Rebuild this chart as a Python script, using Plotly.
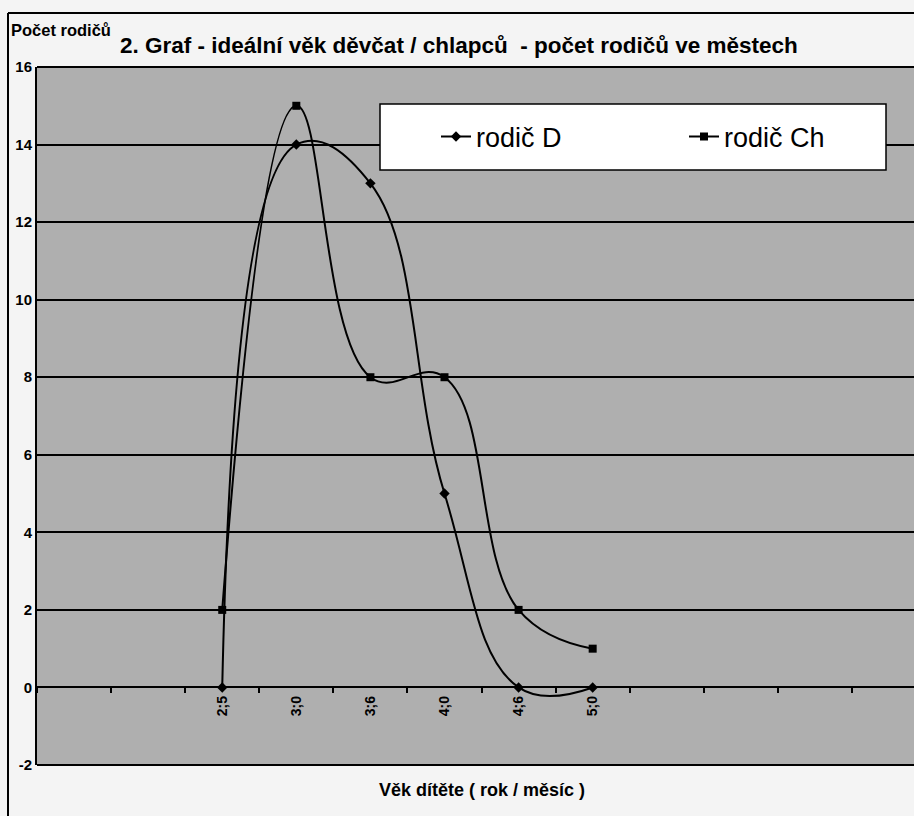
import plotly.graph_objects as go

# ---- data ----
age_labels = ["2;5", "3;0", "3;6", "4;0", "4;6", "5;0"]
rodic_D = [0, 14, 13, 5, 0, 0]
rodic_Ch = [2, 15, 8, 8, 2, 1]
lead_blanks = ["\u200b", "\u200b\u200b"]
trail_blanks = ["\u200b" * 3, "\u200b" * 4, "\u200b" * 5, "\u200b" * 6]
category_order = lead_blanks + age_labels + trail_blanks
y_ticks = [-2, 0, 2, 4, 6, 8, 10, 12, 14, 16]
y_tick_text = ["-2", "0", "2", "4", "6", "8", "10", "12", "14", "16"]

title_text = "2. Graf - ideální věk děvčat / chlapců  - počet rodičů ve městech"
y_title = "Počet rodičů"
x_title = "Věk dítěte ( rok / měsíc )"

FONT = "Liberation Sans, Arial, sans-serif"
W, H = 914, 816
ML, MR, MT, MB = 37, 0, 67, 51
PW, PH = W - ML - MR, H - MT - MB


def px_x(p):
    return (p - ML) / PW


def px_y(p):
    return (H - MB - p) / PH


fig = go.Figure()
fig.add_trace(go.Scatter(
    x=age_labels, y=rodic_D, name="rodič D", mode="lines+markers",
    line=dict(color="black", width=2, shape="spline", smoothing=1.2),
    marker=dict(symbol="diamond", size=8, color="black"),
))
fig.add_trace(go.Scatter(
    x=age_labels, y=rodic_Ch, name="rodič Ch", mode="lines+markers",
    line=dict(color="black", width=2, shape="spline", smoothing=1.2),
    marker=dict(symbol="square", size=8, color="black"),
))

fig.update_layout(
    width=W, height=H, autosize=False,
    margin=dict(l=ML, r=MR, t=MT, b=MB, pad=0, autoexpand=False),
    paper_bgcolor="#f4f4f4",
    plot_bgcolor="#afafaf",
    font=dict(family=FONT, color="black"),
    showlegend=True,
    legend=dict(
        orientation="h", x=px_x(436), xanchor="left", y=px_y(137), yanchor="middle",
        bgcolor="rgba(0,0,0,0)", borderwidth=0,
        font=dict(size=27, family=FONT, color="black"),
        entrywidth=203, entrywidthmode="pixels", itemwidth=30,
    ),
    xaxis=dict(
        type="category", categoryorder="array", categoryarray=category_order,
        range=[-0.5, -0.5 + PW / 74.09],
        tickson="boundaries", ticks="outside", ticklen=5, tickwidth=1.5, tickcolor="black",
        tickangle=-90, tickfont=dict(size=14, family=FONT, weight="bold"),
        ticklabelstandoff=2,
        showgrid=False, showline=True, linecolor="black", linewidth=2,
        anchor="free", position=2 / 18, zeroline=False, automargin=False,
    ),
    yaxis=dict(
        range=[-2, 16], tickvals=y_ticks, ticktext=y_tick_text, ticks="",
        tickfont=dict(size=15, family=FONT, weight="bold"),
        showgrid=True, gridcolor="black", gridwidth=1.5, automargin=False,
        showline=True, linecolor="black", linewidth=2, zeroline=False,
    ),
    shapes=[
        # legend box
        dict(type="rect", xref="paper", yref="paper",
             x0=px_x(380), x1=px_x(886), y0=px_y(104), y1=px_y(170),
             fillcolor="white", line=dict(color="black", width=1.5), layer="above"),
        # plot top and bottom borders
        dict(type="line", xref="paper", yref="paper", x0=0, x1=1, y0=1, y1=1,
             line=dict(color="black", width=2)),
        dict(type="line", xref="paper", yref="paper", x0=0, x1=1, y0=0, y1=0,
             line=dict(color="black", width=2)),
        # outer chart frame
        dict(type="line", xref="paper", yref="paper",
             x0=px_x(8), x1=px_x(8), y0=px_y(13), y1=px_y(820),
             line=dict(color="black", width=2)),
        dict(type="line", xref="paper", yref="paper",
             x0=px_x(8), x1=px_x(920), y0=px_y(13), y1=px_y(13),
             line=dict(color="black", width=2)),
    ],
    annotations=[
        dict(text=title_text, xref="paper", yref="paper", x=px_x(459), y=px_y(46),
             xanchor="center", yanchor="middle", showarrow=False,
             font=dict(size=22.5, family=FONT, weight="bold")),
        dict(text=y_title, xref="paper", yref="paper", x=px_x(9), y=px_y(30),
             xanchor="left", yanchor="middle", showarrow=False,
             font=dict(size=16.5, family=FONT, weight="bold")),
        dict(text=x_title, xref="paper", yref="paper", x=px_x(482), y=px_y(790),
             xanchor="center", yanchor="middle", showarrow=False,
             font=dict(size=18, family=FONT, weight="bold")),
    ],
)

fig.write_html("out.html", config={"displayModeBar": False},
               post_script="document.body.style.margin='0';")
